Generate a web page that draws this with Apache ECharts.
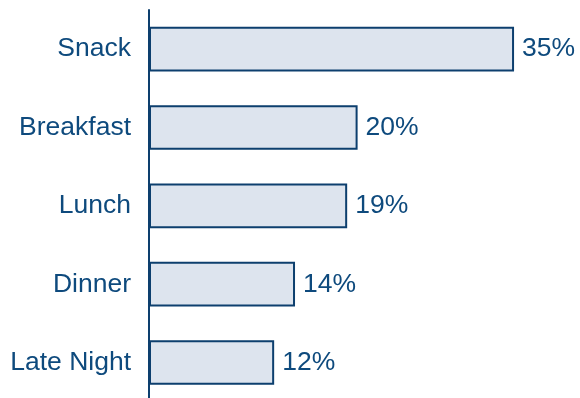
<!DOCTYPE html>
<html><head><meta charset="utf-8">
<script src="https://cdn.jsdelivr.net/npm/echarts@6/dist/echarts.min.js"></script>
<style>html,body{margin:0;padding:0;background:#fff;overflow:hidden}#c{width:580px;height:402px}</style>
</head><body><div id="c"></div>
<script>
const categories = ["Snack", "Breakfast", "Lunch", "Dinner", "Late Night"];
const values = [35, 20, 19, 14, 12];
const chart = echarts.init(document.getElementById('c'));
chart.setOption({
  animation: false,
  grid: {left: 149, top: 10, width: 417.2, height: 391.7, containLabel: false},
  xAxis: {type: 'value', min: 0, max: 40, show: false},
  yAxis: {
    type: 'category', data: categories, inverse: true,
    axisLine: {show: true, lineStyle: {color: '#0d3f6e', width: 2}},
    axisTick: {show: false},
    axisLabel: {color: '#0e4a7d', fontSize: 26.5, fontFamily: 'Liberation Sans, Arial, sans-serif', margin: 18}
  },
  series: [{
    type: 'bar', data: values, barCategoryGap: '43%',
    itemStyle: {color: '#dde4ee', borderColor: '#0d3f6e', borderWidth: 2},
    label: {show: true, position: 'right', distance: 8, formatter: p => p.value + '%',
      color: '#0e4a7d', fontSize: 26.5, fontFamily: 'Liberation Sans, Arial, sans-serif'}
  }]
});
</script></body></html>
